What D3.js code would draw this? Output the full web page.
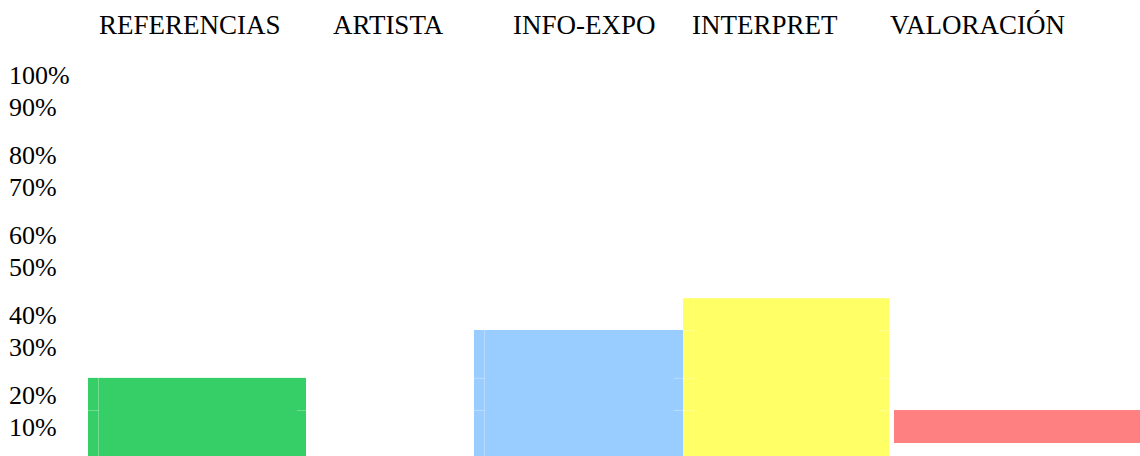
<!DOCTYPE html>
<html>
<head>
<meta charset="utf-8">
<script src="https://cdn.jsdelivr.net/npm/d3@7"></script>
<style>
  html, body { margin: 0; padding: 0; background: #fff; }
  svg { display: block; }
</style>
</head>
<body>
<svg></svg>
<script>
const categories = ['REFERENCIAS', 'ARTISTA', 'INFO-EXPO', 'INTERPRET', 'VALORACIÓN'];
const barTops = [20.4, 0, 32.9, 41.2, 12.0];
const barBases = [0, 0, 0, 0, 3.4];
const barColors = ['#36ce66', '#ffffff', '#99ccff', '#ffff66', '#ff8080'];
const tickLabels = ['100%', '90%', '80%', '70%', '60%', '50%', '40%', '30%', '20%', '10%'];
const tickRows = [0, 2, 5, 7, 10, 12, 15, 17, 20, 22];

const width = 1140;
const height = 456;
const serif = "'Liberation Serif', 'Times New Roman', Times, serif";

window.onload = () => {
  const svg = d3.select('svg')
      .attr('width', width)
      .attr('height', height);

  // column layout of the original table (cells are not evenly sized)
  const colLeft = d3.scaleOrdinal().domain(categories).range([88, 306, 474, 683, 894]);
  const colRight = d3.scaleOrdinal().domain(categories).range([306, 474, 683, 889, 1140]);
  const headerX = d3.scaleOrdinal().domain(categories).range([99, 333, 513, 692, 890]);

  const y = d3.scaleLinear().domain([0, 100]).range([456, 73]);
  const row = d3.scaleLinear().domain([0, 22]).range([75.5, 427]);

  // headers
  svg.selectAll('text.header')
    .data(categories)
    .enter()
    .append('text')
      .attr('class', 'header')
      .attr('x', d => headerX(d))
      .attr('y', 34)
      .attr('font-family', serif)
      .attr('font-size', 27)
      .attr('fill', '#000')
      .text(d => d);

  // y labels
  svg.selectAll('text.tick')
    .data(tickLabels)
    .enter()
    .append('text')
      .attr('class', 'tick')
      .attr('x', 9)
      .attr('y', (d, i) => row(tickRows[i]))
      .attr('dy', '0.34em')
      .attr('font-family', serif)
      .attr('font-size', 26)
      .attr('fill', '#000')
      .text(d => d);

  const bars = categories.map((c, i) => ({
    name: c, top: barTops[i], base: barBases[i], color: barColors[i]
  })).filter(d => d.top > d.base);

  svg.selectAll('rect.bar')
    .data(bars)
    .enter()
    .append('rect')
      .attr('class', 'bar')
      .attr('x', d => colLeft(d.name))
      .attr('y', d => y(d.top))
      .attr('width', d => colRight(d.name) - colLeft(d.name))
      .attr('height', d => y(d.base) - y(d.top))
      .attr('fill', d => d.color);

  // faint table cell borders showing through the bars
  const levels = barTops.filter(v => v > 0);
  const faint = svg.append('g')
      .attr('stroke', '#fff')
      .attr('stroke-opacity', 0.3)
      .attr('stroke-width', 1);

  bars.filter(d => d.base === 0).forEach(d => {
    const x0 = colLeft(d.name);
    const x1 = colRight(d.name);
    faint.append('line')
        .attr('x1', x0 + 10.5).attr('x2', x0 + 10.5)
        .attr('y1', y(d.top)).attr('y2', height);
    levels.filter(v => v < d.top).forEach(v => {
      faint.append('line')
          .attr('x1', x0).attr('x2', x0 + 11)
          .attr('y1', y(v) + 0.5).attr('y2', y(v) + 0.5);
      faint.append('line')
          .attr('x1', x1 - 9).attr('x2', x1)
          .attr('y1', y(v) + 0.5).attr('y2', y(v) + 0.5);
    });
  });
};
</script>
</body>
</html>
